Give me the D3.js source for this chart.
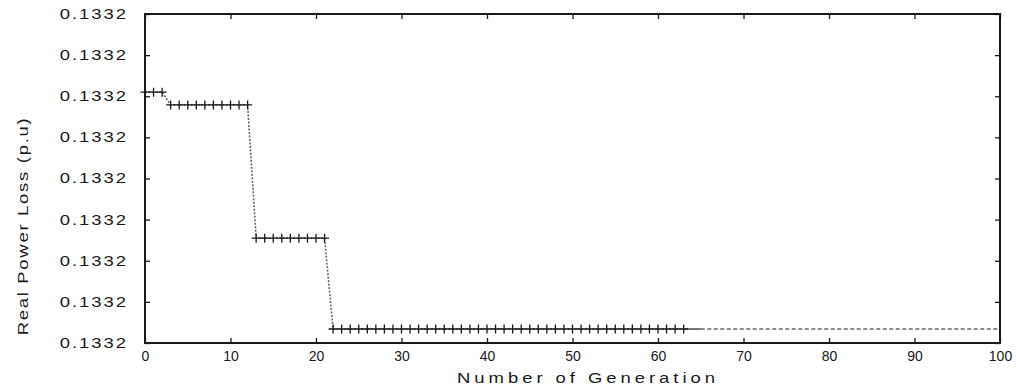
<!DOCTYPE html>
<html>
<head>
<meta charset="utf-8">
<script src="https://cdn.jsdelivr.net/npm/d3@7"></script>
<style>
  body { margin: 0; background: #fff; }
  svg { display: block; font-family: "Liberation Sans", Arial, sans-serif; }
</style>
</head>
<body>
<svg id="chart" width="1016" height="389"></svg>
<script>
// --- datos ---------------------------------------------------------
// pérdida (p.u) del mejor individuo por generación, 0..100
const generations = d3.range(0, 101);
const lossByGen = [
  0.1332610, 0.1332610, 0.1332610, 0.1332579, 0.1332579, 0.1332579, 0.1332579, 0.1332579, 0.1332579, 0.1332579,
  0.1332579, 0.1332579, 0.1332579, 0.1332255, 0.1332255, 0.1332255, 0.1332255, 0.1332255, 0.1332255, 0.1332255,
  0.1332255, 0.1332255, 0.1332034, 0.1332034, 0.1332034, 0.1332034, 0.1332034, 0.1332034, 0.1332034, 0.1332034,
  0.1332034, 0.1332034, 0.1332034, 0.1332034, 0.1332034, 0.1332034, 0.1332034, 0.1332034, 0.1332034, 0.1332034,
  0.1332034, 0.1332034, 0.1332034, 0.1332034, 0.1332034, 0.1332034, 0.1332034, 0.1332034, 0.1332034, 0.1332034,
  0.1332034, 0.1332034, 0.1332034, 0.1332034, 0.1332034, 0.1332034, 0.1332034, 0.1332034, 0.1332034, 0.1332034,
  0.1332034, 0.1332034, 0.1332034, 0.1332034, 0.1332034, 0.1332034, 0.1332034, 0.1332034, 0.1332034, 0.1332034,
  0.1332034, 0.1332034, 0.1332034, 0.1332034, 0.1332034, 0.1332034, 0.1332034, 0.1332034, 0.1332034, 0.1332034,
  0.1332034, 0.1332034, 0.1332034, 0.1332034, 0.1332034, 0.1332034, 0.1332034, 0.1332034, 0.1332034, 0.1332034,
  0.1332034, 0.1332034, 0.1332034, 0.1332034, 0.1332034, 0.1332034, 0.1332034, 0.1332034, 0.1332034, 0.1332034,
  0.1332034
];
const lastMarkedGen = 63;   // los "+" llegan hasta aquí
const solidUntilGen = 65;   // tramo continuo antes de la cola discontinua

const xTicks = [0, 10, 20, 30, 40, 50, 60, 70, 80, 90, 100];
const yTicks = [0.13320, 0.13321, 0.13322, 0.13323, 0.13324, 0.13325, 0.13326, 0.13327, 0.13328];
const yTickLabels = ["0.1332", "0.1332", "0.1332", "0.1332", "0.1332", "0.1332", "0.1332", "0.1332", "0.1332"];

const xTitle = "Number of Generation";
const yTitle = "Real Power Loss (p.u)";

// --- layout ----------------------------------------------------------
const M = { left: 145, right: 1000, top: 14, bottom: 343 };
const TICK = 5;
const INK = "#1a1a1a";
const STRETCH = 1.32;   // el texto original está ensanchado

const svg = d3.select("#chart");

const x = d3.scaleLinear().domain([0, 100]).range([M.left, M.right]);
const y = d3.scaleLinear().domain([yTicks[0], yTicks[yTicks.length - 1]]).range([M.bottom, M.top]);

const points = generations.map((g, i) => ({ g, v: lossByGen[i] }));
const line = d3.line().x(d => x(d.g)).y(d => y(d.v));

// curva punteada (gris) hasta los marcadores
svg.append("path")
  .datum(points.filter(d => d.g <= lastMarkedGen))
  .attr("d", line)
  .attr("fill", "none")
  .attr("stroke", "#666")
  .attr("stroke-width", 1.6)
  .attr("stroke-dasharray", "2,1.5");

// tramo continuo + cola discontinua
svg.append("path")
  .datum(points.filter(d => d.g >= lastMarkedGen && d.g <= solidUntilGen))
  .attr("d", line)
  .attr("fill", "none")
  .attr("stroke", INK)
  .attr("stroke-width", 1.2);

svg.append("path")
  .datum(points.filter(d => d.g >= solidUntilGen))
  .attr("d", line)
  .attr("fill", "none")
  .attr("stroke", INK)
  .attr("stroke-width", 1.1)
  .attr("stroke-dasharray", "4,2.5");

// marcadores "+"
const ARM = 4.5;
svg.append("g")
  .selectAll("path")
  .data(points.filter(d => d.g <= lastMarkedGen))
  .join("path")
  .attr("d", d => {
    const cx = x(d.g), cy = y(d.v);
    return `M${cx - ARM},${cy}H${cx + ARM}M${cx},${cy - ARM}V${cy + ARM}`;
  })
  .attr("stroke", INK)
  .attr("stroke-width", 1.3)
  .attr("fill", "none");

// ejes: abajo / izquierda con etiquetas, arriba / derecha espejados
const axisBottom = d3.axisBottom(x).tickValues(xTicks).tickSize(-TICK).tickPadding(8).tickFormat(d3.format("d"));
const axisTop = d3.axisTop(x).tickValues(xTicks).tickSize(-TICK).tickFormat("");
const axisLeft = d3.axisLeft(y).tickValues(yTicks).tickSize(-TICK).tickFormat((d, i) => yTickLabels[i]);
const axisRight = d3.axisRight(y).tickValues(yTicks).tickSize(-TICK).tickFormat("");

function styleAxis(g) {
  g.select(".domain").remove();
  g.selectAll(".tick line").attr("stroke", INK).attr("stroke-width", 1.3);
  g.selectAll(".tick text").attr("fill", INK).attr("font-size", 14);
}

svg.append("g").attr("transform", `translate(0,${M.bottom})`).call(axisBottom).call(styleAxis);
svg.append("g").attr("transform", `translate(0,${M.top})`).call(axisTop).call(styleAxis);

const left = svg.append("g").attr("transform", `translate(${M.left},0)`).call(axisLeft).call(styleAxis);
// etiquetas del eje y: ensanchadas y con algo de espaciado
left.selectAll(".tick text")
  .attr("x", -17 / STRETCH)
  .attr("letter-spacing", 1.5)
  .attr("transform", `scale(${STRETCH},1)`);

svg.append("g").attr("transform", `translate(${M.right},0)`).call(axisRight).call(styleAxis);

// marco
svg.append("rect")
  .attr("x", M.left).attr("y", M.top)
  .attr("width", M.right - M.left).attr("height", M.bottom - M.top)
  .attr("fill", "none")
  .attr("stroke", INK)
  .attr("stroke-width", 2);

// títulos
svg.append("text")
  .attr("transform", `translate(588,383) scale(${STRETCH},1)`)
  .attr("text-anchor", "middle")
  .attr("font-size", 14)
  .attr("letter-spacing", 3)
  .attr("fill", INK)
  .text(xTitle);

svg.append("text")
  .attr("transform", `translate(28,226) rotate(-90) scale(${STRETCH},1)`)
  .attr("text-anchor", "middle")
  .attr("font-size", 14)
  .attr("letter-spacing", 1.3)
  .attr("fill", INK)
  .text(yTitle);
</script>
</body>
</html>
